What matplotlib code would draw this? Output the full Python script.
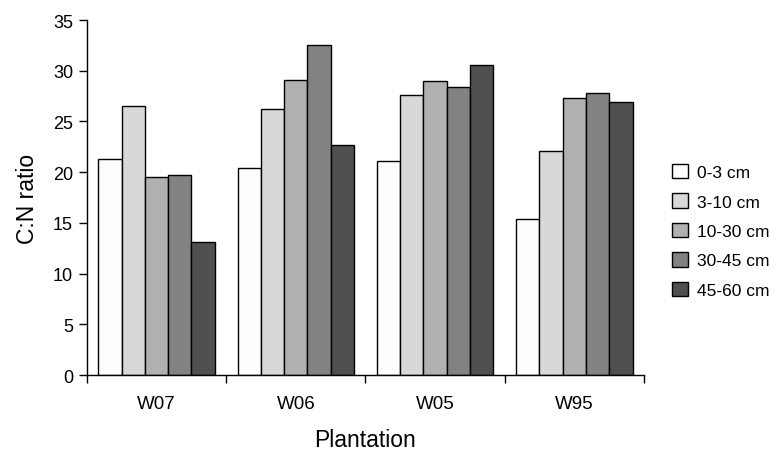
import numpy as np
import matplotlib

matplotlib.use("Agg")
import matplotlib.pyplot as plt

plt.rcParams["font.family"] = ["Liberation Sans", "DejaVu Sans"]

plantations = ["W07", "W06", "W05", "W95"]
depths = ["0-3 cm", "3-10 cm", "10-30 cm", "30-45 cm", "45-60 cm"]
# C:N ratio per depth, one value per plantation
cn_0_3 = [21.3, 20.4, 21.1, 15.4]
cn_3_10 = [26.5, 26.2, 27.6, 22.1]
cn_10_30 = [19.5, 29.1, 29.0, 27.3]
cn_30_45 = [19.7, 32.5, 28.4, 27.8]
cn_45_60 = [13.1, 22.7, 30.6, 26.9]
series = [cn_0_3, cn_3_10, cn_10_30, cn_30_45, cn_45_60]
colors = ["#fdfdfd", "#d8d8d8", "#b0b0b0", "#828282", "#4f4f4f"]


def main():
    fig = plt.figure(figsize=(7.83, 4.52), dpi=100)
    ax = fig.add_axes([0.111, 0.168, 0.7115, 0.7855])

    x = np.arange(len(plantations))
    w = 0.167
    for i, (vals, c, lab) in enumerate(zip(series, colors, depths)):
        ax.bar(x + (i - 2) * w, vals, width=w, color=c, edgecolor="black",
               linewidth=1.0, label=lab)

    ax.set_xlim(-0.5, len(plantations) - 0.5)
    ax.set_ylim(0, 35)
    ax.set_yticks(range(0, 36, 5))
    ax.set_xticks(x)
    ax.set_xticklabels(plantations)
    ax.set_xticks(np.arange(-0.5, len(plantations)), minor=True)
    ax.tick_params(axis="x", which="major", length=0, pad=14, labelsize=13.5)
    ax.tick_params(axis="x", which="minor", length=6, width=1, direction="out")
    ax.tick_params(axis="y", length=6, width=1, direction="out", labelsize=13,
                   pad=4)
    for s in ("top", "right"):
        ax.spines[s].set_visible(False)
    ax.spines["left"].set_linewidth(1)
    ax.spines["bottom"].set_linewidth(1)

    ax.set_xlabel("Plantation", fontsize=16.5, labelpad=12)
    ax.set_ylabel("C:N ratio", fontsize=16.5, labelpad=10)

    fig.legend(loc="center left", bbox_to_anchor=(0.843, 0.487), frameon=False,
               fontsize=12.5, handlelength=0.9, handleheight=0.9,
               handletextpad=0.5, labelspacing=0.76, borderpad=0.2)

    fig.savefig("out.png", dpi=100)
    plt.close(fig)


if __name__ == "__main__":
    main()
